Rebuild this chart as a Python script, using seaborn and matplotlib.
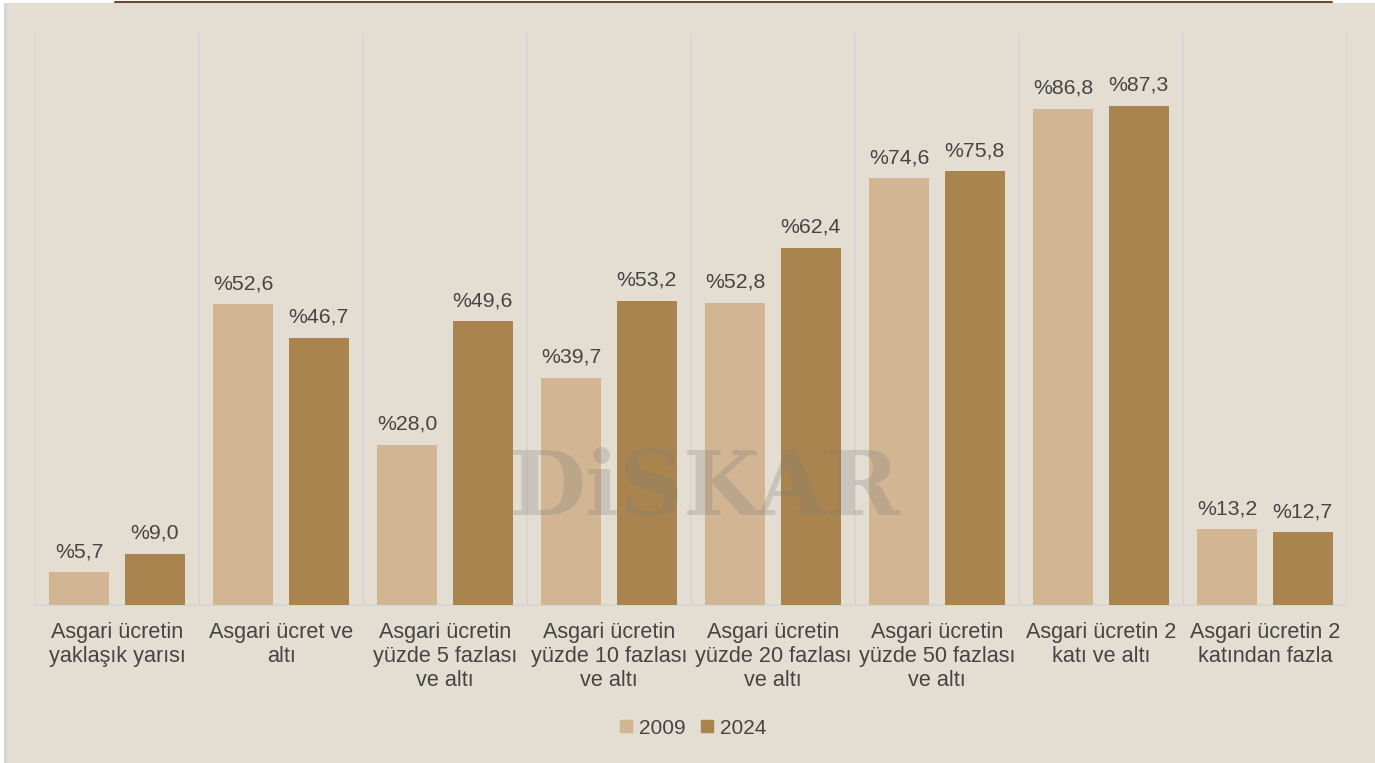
import matplotlib
matplotlib.use("Agg")
import matplotlib.pyplot as plt
import seaborn as sns
import pandas as pd
import numpy as np
from matplotlib.patches import Rectangle
from matplotlib.lines import Line2D

categories = [
    "Asgari ücretin\nyaklaşık yarısı",
    "Asgari ücret ve\naltı",
    "Asgari ücretin\nyüzde 5 fazlası\nve altı",
    "Asgari ücretin\nyüzde 10 fazlası\nve altı",
    "Asgari ücretin\nyüzde 20 fazlası\nve altı",
    "Asgari ücretin\nyüzde 50 fazlası\nve altı",
    "Asgari ücretin 2\nkatı ve altı",
    "Asgari ücretin 2\nkatından fazla",
]
values_2009 = [5.7, 52.6, 28.0, 39.7, 52.8, 74.6, 86.8, 13.2]
values_2024 = [9.0, 46.7, 49.6, 53.2, 62.4, 75.8, 87.3, 12.7]
series = ["2009", "2024"]

BG = "#E3DDD2"
C09 = "#D2B693"
C24 = "#AA844E"
TXT = "#454545"

df = pd.DataFrame({
    "cat": categories * 2,
    "val": values_2009 + values_2024,
    "year": [series[0]] * len(categories) + [series[1]] * len(categories),
})

sns.set_theme(style="white")
plt.rcParams["font.family"] = ["Liberation Sans", "DejaVu Sans"]

fig = plt.figure(figsize=(13.75, 7.63), dpi=100, facecolor=BG)
ax = fig.add_axes([35 / 1375, 158 / 763, 1312 / 1375, 572 / 763])
ax.set_facecolor(BG)

sns.barplot(data=df, x="cat", y="val", hue="year", order=categories,
            hue_order=series, palette=[C09, C24], width=0.915, gap=0.2,
            saturation=1, ax=ax, legend=False, zorder=3, linewidth=0)

for cont in ax.containers:
    labels = ["%" + f"{v:.1f}".replace(".", ",") for v in cont.datavalues]
    ax.bar_label(cont, labels=labels, padding=8, fontsize=15.3, color=TXT)

ax.set_ylim(0, 100)
ax.set_xlim(-0.5, len(categories) - 0.5)
ax.set_xlabel("")
ax.set_ylabel("")
ax.set_yticks([])
ax.set_xticks(range(len(categories)))
ax.set_xticklabels(categories, fontsize=15.6, color=TXT, linespacing=1.2)
ax.tick_params(axis="x", length=0, pad=12)
ax.set_xticks(np.arange(-0.5, len(categories), 1), minor=True)
ax.tick_params(axis="x", which="minor", length=0)
ax.grid(True, axis="x", which="minor", color="#D6D6D6", linewidth=1.4, zorder=0)
for s in ["top", "right", "left"]:
    ax.spines[s].set_visible(False)
ax.spines["bottom"].set_color("#D6D6D6")
ax.spines["bottom"].set_linewidth(1.4)

# legend
handles = [Line2D([0], [0], marker="s", linestyle="", markersize=8,
                  markerfacecolor=c, markeredgecolor=c) for c in (C09, C24)]
fig.legend(handles, series, loc="center", bbox_to_anchor=(693 / 1375, 1 - 728 / 763),
           ncol=2, frameon=False, fontsize=15, handlelength=0.6, handletextpad=0.3,
           columnspacing=0.75, labelcolor=TXT)

# watermark
fig.text(705 / 1375, 1 - 491 / 763, "DiSKAR", ha="center", va="center",
         fontsize=64, fontweight="bold", family="DejaVu Serif",
         color="#7A7A7A", alpha=0.25, zorder=10)

# frame decorations
fig.patches.append(Rectangle((0, 0), 7 / 1375, 1, transform=fig.transFigure,
                             facecolor="#FFFFFF", edgecolor="none"))
fig.patches.append(Rectangle((4 / 1375, 0), 3 / 1375, 1, transform=fig.transFigure,
                             facecolor="#D6D6D6", edgecolor="none"))
fig.patches.append(Rectangle((0, 1 - 3 / 763), 1, 3 / 763, transform=fig.transFigure,
                             facecolor="#FFFFFF", edgecolor="none"))
fig.add_artist(Line2D([115 / 1375, 1332 / 1375], [1 - 2 / 763, 1 - 2 / 763],
                      transform=fig.transFigure, color="#6E4A1E", linewidth=1.5))

fig.savefig("out.png", dpi=100, facecolor=BG)
